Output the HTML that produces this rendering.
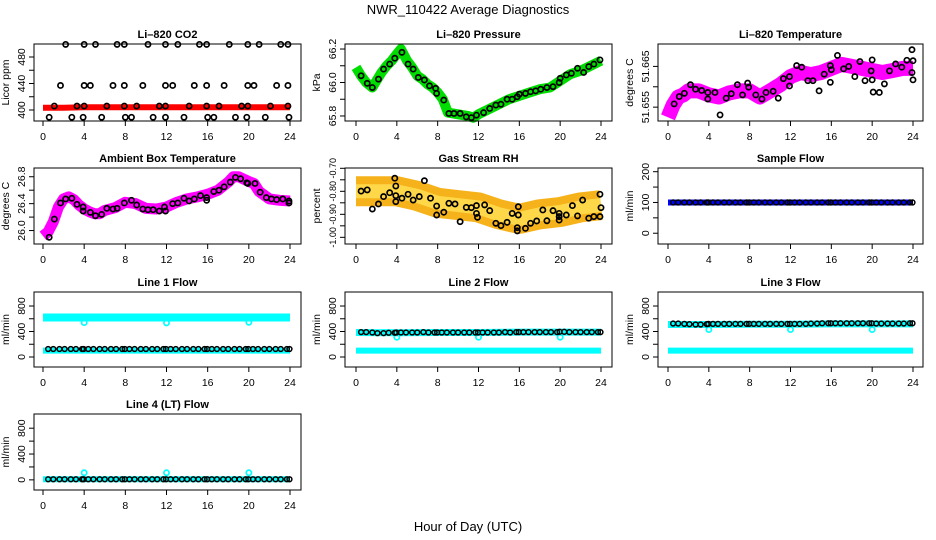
<!DOCTYPE html>
<html><head><meta charset="utf-8"><style>
html,body{margin:0;padding:0;background:#fff;}
svg{display:block;font-family:"Liberation Sans",Arial,sans-serif;}
</style></head><body>
<svg id="chart" width="936" height="540" viewBox="0 0 936 540" xmlns="http://www.w3.org/2000/svg">
<rect width="936" height="540" fill="#fff"/>
<text x="468" y="14" text-anchor="middle" font-size="13">NWR_110422  Average Diagnostics</text>
<text x="468" y="531" text-anchor="middle" font-size="13">Hour of Day (UTC)</text>
</svg>
<script>
// ---------- data ----------
const xTicks = [0,4,8,12,16,20,24];
const co2BlackHours = [2.2,4.0,5.1,7.2,7.9,10.2,11.9,13.1,15.2,15.9,18.1,19.9,21.0,23.1,23.8,
 1.7,4.0,4.6,6.8,7.9,9.7,11.9,12.6,14.7,15.9,17.6,19.9,20.5,22.7,23.8,
 1.1,3.3,4.0,6.2,7.9,9.1,11.3,11.9,14.2,15.9,17.1,19.3,19.9,22.1,23.8,
 0.6,2.8,3.9,5.7,8.0,8.6,10.7,11.9,13.7,16.0,16.6,18.7,19.8,21.6,23.9];
const co2BlackVals = [499,499,499,499,499,499,499,499,499,499,499,499,499,499,499,
 437,437,437,437,437,437,437,437,437,437,437,437,437,437,437,
 406,406,406,406,406,406,406,406,406,406,406,406,406,406,406,
 389,389,389,389,389,389,389,389,389,389,389,389,389,389,389];
const co2RedHours = [0,2,4,6,8,10,12,14,16,18,20,22,24];
const co2RedVals = [403.5,403.5,404,404,404,404,404,404,404,404,404,404,404];

const presHours = [0.5,1.1,1.6,2.2,2.7,3.3,3.8,4.5,5.1,5.6,6.1,6.7,7.2,7.8,7.9,8.6,9.1,9.6,10.2,10.8,11.3,11.8,12.5,13.1,13.7,14.2,14.8,15.3,15.8,16.0,16.6,17.1,17.6,18.1,18.7,19.3,19.9,20.0,20.6,21.1,21.7,22.3,22.8,23.3,23.9];
const presVals = [66.04,65.995,65.97,66.02,66.08,66.11,66.145,66.18,66.11,66.08,66.03,66.015,65.98,65.965,65.935,65.895,65.815,65.815,65.815,65.795,65.79,65.805,65.82,65.845,65.865,65.87,65.9,65.9,65.915,65.93,65.935,65.945,65.95,65.96,65.97,65.975,66.0,66.025,66.045,66.055,66.085,66.06,66.095,66.11,66.135];
const presGreenHours = [0,0.5,1,1.6,2,2.5,3,3.5,4,4.4,5,5.5,6,6.5,7,7.5,8,8.5,9,10,11,11.5,12,13,14,15,16,17,18,19,20,21,22,23,24];
const presGreenVals = [66.09,66.04,66.0,65.97,66.01,66.06,66.1,66.13,66.17,66.2,66.13,66.09,66.04,66.02,65.99,65.97,65.94,65.9,65.82,65.81,65.8,65.79,65.81,65.84,65.87,65.9,65.92,65.94,65.96,65.97,66.01,66.05,66.07,66.1,66.13];

const ltHours = [0.6,1.1,1.6,2.2,2.7,3.3,3.9,3.9,4.6,5.1,5.7,6.2,6.8,7.3,7.8,7.9,8.6,9.2,9.6,10.3,10.8,11.3,11.9,11.9,12.6,13.1,13.7,14.2,14.8,15.3,15.9,16.0,15.9,16.6,17.2,17.7,18.3,18.8,19.3,19.9,20.0,20.0,20.1,20.7,21.2,21.7,22.3,22.9,23.4,23.9,24,23.9,24];
const ltVals = [51.6558,51.6576,51.6584,51.6605,51.6594,51.6591,51.6586,51.6570,51.6586,51.6531,51.6572,51.6583,51.6605,51.658,51.6609,51.6599,51.658,51.657,51.6586,51.6589,51.6572,51.662,51.6602,51.6625,51.6652,51.6648,51.6615,51.6615,51.659,51.6631,51.6652,51.6642,51.6611,51.6677,51.6644,51.665,51.6625,51.6662,51.6615,51.6639,51.6666,51.6617,51.6587,51.6586,51.6607,51.6639,51.6656,51.6648,51.6665,51.6691,51.6664,51.6635,51.6617];
const ltPinkHours = [0,0.5,1,1.5,2,3,4,5,6,7,8,9,10,11,12,13,14,15,16,17,18,19,20,21,22,23,24];
const ltPinkVals = [51.6525,51.6555,51.6575,51.658,51.659,51.659,51.658,51.6575,51.6585,51.659,51.659,51.6575,51.659,51.6605,51.6625,51.6635,51.663,51.6635,51.6645,51.6655,51.665,51.6645,51.664,51.6635,51.664,51.6645,51.6645];

const ambHours = [0.6,1.1,1.7,2.2,2.8,3.3,3.9,3.9,4.6,5.1,5.7,6.2,6.8,7.2,7.9,8.6,9.1,9.7,10.2,10.7,11.3,11.8,11.9,12.6,13.1,13.7,14.2,14.7,15.3,15.9,15.9,16.6,17.1,17.6,18.2,18.7,19.2,19.8,19.9,20.6,21.1,21.7,22.2,22.7,23.3,23.9,23.9];
const ambVals = [25.90,26.17,26.41,26.47,26.48,26.39,26.35,26.29,26.27,26.22,26.24,26.33,26.32,26.33,26.41,26.45,26.38,26.32,26.31,26.31,26.29,26.35,26.29,26.40,26.41,26.48,26.44,26.47,26.52,26.49,26.45,26.58,26.60,26.65,26.72,26.79,26.77,26.71,26.70,26.70,26.57,26.49,26.47,26.46,26.47,26.44,26.41];
const ambPinkHours = [0,0.5,1,1.5,2,2.5,3,3.5,4,4.5,5,5.5,6,7,8,9,10,11,12,13,14,15,16,17,18,18.5,19,20,20.5,21,22,23,24];
const ambPinkVals = [25.92,25.98,26.13,26.35,26.47,26.5,26.46,26.38,26.32,26.28,26.25,26.25,26.3,26.34,26.42,26.4,26.33,26.32,26.35,26.42,26.47,26.5,26.54,26.6,26.72,26.8,26.8,26.73,26.7,26.58,26.47,26.45,26.44];

const rhHours = [0.5,1.1,1.6,2.2,2.7,3.3,3.8,3.9,3.9,3.9,4.5,5.1,5.6,6.2,6.7,7.3,7.9,7.9,8.6,9.1,9.7,10.2,10.8,11.3,11.8,11.8,11.9,12.6,13.1,13.7,14.2,14.8,15.3,15.9,15.9,15.8,15.8,16.6,17.1,17.7,18.3,18.7,19.3,19.9,19.9,19.9,20.6,21.2,21.7,22.2,22.8,23.3,23.9,24,23.9];
const rhVals = [-0.799,-0.794,-0.877,-0.855,-0.823,-0.806,-0.743,-0.777,-0.819,-0.845,-0.83,-0.813,-0.838,-0.823,-0.754,-0.83,-0.864,-0.903,-0.891,-0.852,-0.855,-0.932,-0.87,-0.871,-0.862,-0.896,-0.913,-0.859,-0.884,-0.939,-0.949,-0.935,-0.896,-0.867,-0.903,-0.958,-0.972,-0.961,-0.939,-0.929,-0.881,-0.928,-0.884,-0.896,-0.91,-0.925,-0.903,-0.862,-0.907,-0.838,-0.917,-0.91,-0.813,-0.871,-0.91];
const rhCloudHours = [0,2,4,6,8,10,12,14,16,18,20,22,24];
const rhCloudVals = [-0.80,-0.80,-0.80,-0.82,-0.85,-0.86,-0.87,-0.90,-0.92,-0.90,-0.89,-0.87,-0.86];

const flowHours = [0.5,1.0,1.6,2.1,2.7,3.2,3.8,3.95,4.4,4.9,5.5,6.0,6.6,7.1,7.7,7.95,8.4,8.9,9.5,10.0,10.6,11.1,11.7,11.95,12.4,12.9,13.5,14.0,14.6,15.1,15.7,15.95,16.4,16.9,17.5,18.0,18.6,19.1,19.7,19.95,20.4,20.9,21.5,22.0,22.6,23.1,23.7,23.95];
const sampleBlack = [100,100,100,100,100,100,100,100,100,100,100,100,100,100,100,100,100,100,100,100,100,100,100,100,100,100,100,100,100,100,100,100,100,100,100,100,100,100,100,100,100,100,100,100,100,100,100,100];
const line1Black = [125,125,125,125,125,125,125,125,125,125,125,125,125,125,125,125,125,125,125,125,125,125,125,125,125,125,125,125,125,125,125,125,125,125,125,125,125,125,125,125,125,125,125,125,125,125,125,125];
const line2Black = [390,390,385,375,375,380,380,385,385,385,385,385,390,385,385,385,385,385,385,385,385,385,385,385,385,385,385,385,390,385,390,390,390,390,390,390,390,390,390,395,395,390,390,390,390,390,390,390];
const line3Black = [525,525,520,515,510,510,515,520,520,520,520,520,520,520,520,520,520,520,520,520,520,520,520,520,520,520,520,525,525,530,530,530,530,530,530,530,530,530,530,530,525,525,525,525,525,525,530,530];
const line4Black = [10,10,10,10,10,10,10,10,10,10,10,10,10,10,10,10,10,10,10,10,10,10,10,10,10,10,10,10,10,10,10,10,10,10,10,10,10,10,10,10,10,10,10,10,10,10,10,10];
const bandHours = [0,4,8,12,16,20,24];
const sampleBand = [100,100,100,100,100,100,100];
const line1Upper = [620,620,620,620,620,620,620];
const line1Lower = [100,100,100,100,100,100,100];
const line2Upper = [385,380,385,385,390,390,390];
const line2Lower = [100,100,100,100,100,100,100];
const line3Upper = [510,510,515,515,520,520,520];
const line3Lower = [100,100,100,100,100,100,100];
const line4Band = [10,10,10,10,10,10,10];
const outlierHours = [4,12,20];
const line1Out = [540,535,545];
const line2Out = [310,310,310];
const line3Out = [430,430,430];
const line4Out = [110,110,110];

// ---------- layout ----------
const svg = document.getElementById('chart');
const NS = 'http://www.w3.org/2000/svg';
const cols = [{L:34,R:301,x0:43,x24:290},{L:345,R:612,x0:356,x24:601},{L:658,R:923,x0:668,x24:913}];
const rows = [{T:44,B:121},{T:168,B:244},{T:292,B:367},{T:414,B:490}];
function mk(tag, attrs, parent){const e=document.createElementNS(NS,tag);for(const k in attrs)e.setAttribute(k,attrs[k]);(parent||svg).appendChild(e);return e;}

function panel(name, c, r, title, ylab, ymin, ymax, ticks, labels, lsize){
  const C=cols[c], R=rows[r];
  const g=mk('g',{});
  
  
  const sx=v=>C.x0+(C.x24-C.x0)*v/24;
  const sy=v=>R.B-(v-ymin)/(ymax-ymin)*(R.B-R.T);
  const t=mk('text',{x:(C.L+C.R)/2,y:R.T-6,'text-anchor':'middle','font-size':'11','font-weight':'bold'},g);
  t.textContent=title;
  
  
  const yl=mk('text',{x:0,y:0,'text-anchor':'middle','font-size':'10.5',transform:`translate(${C.L-25},${(R.T+R.B)/2}) rotate(-90)`},g);
  yl.textContent=ylab;
  
  
  const ax=mk('g',{stroke:'#000','stroke-width':'1'},g);
  
  
  mk('line',{x1:sx(0),x2:sx(24),y1:R.B,y2:R.B},ax);
  xTicks.forEach(v=>{
    mk('line',{x1:sx(v),x2:sx(v),y1:R.B,y2:R.B+5},ax);
    const tl=mk('text',{x:sx(v),y:R.B+19,'text-anchor':'middle','font-size':'10.5',stroke:'none'},g);
    tl.textContent=v;
    
    
  });
  const ay=mk('g',{stroke:'#000','stroke-width':'1'},g);
  
  
  ticks.forEach((v,i)=>{
    mk('line',{x1:C.L-5,x2:C.L,y1:sy(v),y2:sy(v)},ay);
    if(labels[i]!==''){
      const tl=mk('text',{x:0,y:0,'text-anchor':'middle','font-size':lsize||'10.5',stroke:'none',transform:`translate(${C.L-9},${sy(v)}) rotate(-90)`},g);
      tl.textContent=labels[i];
      
      
    }
  });
  const plot=mk('g',{},g);
  
  
  mk('rect',{x:C.L,y:R.T,width:C.R-C.L,height:R.B-R.T,fill:'none',stroke:'#000','stroke-width':'1'},g);
  return {sx,sy,plot};
}
function band(p, hs, vs, color, w, name){
  const pts=hs.map((h,i)=>p.sx(h).toFixed(1)+','+p.sy(vs[i]).toFixed(1)).join(' ');
  const pl=mk('polyline',{points:pts,fill:'none',stroke:color,'stroke-width':w,'stroke-linejoin':'round','stroke-linecap':'butt'},p.plot);
  
  
}
function pts(p, hs, vs, color, name, r, sw){
  hs.forEach((h,i)=>{
    const c=mk('circle',{cx:p.sx(h),cy:p.sy(vs[i]),r:r||2.6,fill:'none',stroke:color,'stroke-width':sw||1.7},p.plot);
    
    
  });
}

// Li-820 CO2
let p=panel('co2-panel',0,0,'Li\u2013820 CO2','Licor ppm',383.4,499.6,[400,420,440,460,480],['400','','440','','480']);
band(p,co2RedHours,co2RedVals,'#ff0000',6,'co2-red-series');
pts(p,co2BlackHours,co2BlackVals,'#000','co2-hourly-point');
// Pressure
p=panel('pressure-panel',1,0,'Li\u2013820 Pressure','kPa',65.77,66.23,[65.8,65.9,66.0,66.1,66.2],['65.8','','66.0','','66.2']);
band(p,presGreenHours,presGreenVals,'#00dd00',10,'pressure-green-series');
pts(p,presHours,presVals,'#000','pressure-hourly-point');
// Li temp
p=panel('licor-temp-panel',2,0,'Li\u2013820 Temperature','degrees C',51.6516,51.6705,[51.655,51.66,51.665],['51.655','','51.665']);
band(p,ltPinkHours,ltPinkVals,'#ff00ff',15,'licor-temp-magenta-series');
pts(p,ltHours,ltVals,'#000','licor-temp-hourly-point');
// Ambient
p=panel('ambient-temp-panel',0,1,'Ambient Box Temperature','degrees C',25.80,26.93,[26.0,26.2,26.4,26.6,26.8],['26.0','','26.4','','26.8']);
band(p,ambPinkHours,ambPinkVals,'#ff00ff',11,'ambient-magenta-series');
pts(p,ambHours,ambVals,'#000','ambient-hourly-point');
// RH
p=panel('rh-panel',1,1,'Gas Stream RH','percent',-1.029,-0.6987,[-1.0,-0.95,-0.9,-0.85,-0.8,-0.75,-0.7],['-1.00','','-0.90','','-0.80','','-0.70'],'9');
band(p,rhCloudHours,rhCloudVals,'#f6b21a',30,'rh-orange-series');
band(p,rhCloudHours,rhCloudVals,'#ffd84a',14,'rh-yellow-core');
pts(p,rhHours,rhVals,'#000','rh-hourly-point');
// Sample flow
p=panel('sample-flow-panel',2,1,'Sample Flow','ml/min',-35,212,[0,50,100,150,200],['0','','100','','200']);
band(p,bandHours,sampleBand,'#0000ff',6,'sample-flow-blue-series');
pts(p,flowHours,sampleBlack,'#000','sample-flow-hourly-point',2.4,1.5);
// Line flows
const fT=[0,200,400,600,800], fL=['0','','400','','800'];
p=panel('line1-flow-panel',0,2,'Line 1 Flow','ml/min',-157,1020,fT,fL);
band(p,bandHours,line1Upper,'#00ffff',8,'line1-cyan-upper');
band(p,bandHours,line1Lower,'#00ffff',6,'line1-cyan-lower');
pts(p,outlierHours,line1Out,'#00ffff','line1-cyan-outlier');
pts(p,flowHours,line1Black,'#000','line1-hourly-point',2.4,1.5);
p=panel('line2-flow-panel',1,2,'Line 2 Flow','ml/min',-157,1020,fT,fL);
band(p,bandHours,line2Upper,'#00ffff',7,'line2-cyan-upper');
band(p,bandHours,line2Lower,'#00ffff',6,'line2-cyan-lower');
pts(p,outlierHours,line2Out,'#00ffff','line2-cyan-outlier');
pts(p,flowHours,line2Black,'#000','line2-hourly-point',2.4,1.5);
p=panel('line3-flow-panel',2,2,'Line 3 Flow','ml/min',-157,1020,fT,fL);
band(p,bandHours,line3Upper,'#00ffff',7,'line3-cyan-upper');
band(p,bandHours,line3Lower,'#00ffff',6,'line3-cyan-lower');
pts(p,outlierHours,line3Out,'#00ffff','line3-cyan-outlier');
pts(p,flowHours,line3Black,'#000','line3-hourly-point',2.4,1.5);
p=panel('line4-flow-panel',0,3,'Line 4 (LT) Flow','ml/min',-157,1020,fT,fL);
band(p,bandHours,line4Band,'#00ffff',6,'line4-cyan-series');
pts(p,outlierHours,line4Out,'#00ffff','line4-cyan-outlier');
pts(p,flowHours,line4Black,'#000','line4-hourly-point',2.4,1.5);
</script>
</body></html>
